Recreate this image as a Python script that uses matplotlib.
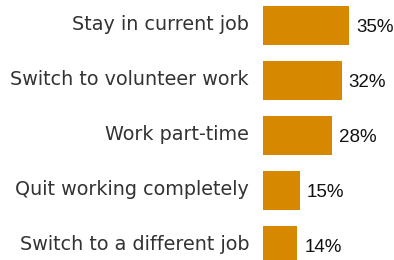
import matplotlib
matplotlib.use('Agg')
import matplotlib.pyplot as plt

# data
categories = ['Stay in current job', 'Switch to volunteer work', 'Work part-time',
              'Quit working completely', 'Switch to a different job']
values = [35, 32, 28, 15, 14]

W, H = 394, 260
fig = plt.figure(figsize=(W / 100, H / 100), dpi=100)
# axes area starts where bars start
ax = fig.add_axes([263 / W, 0, 1 - 263 / W, 1])

pos = list(range(len(categories)))
ax.barh(pos, values, height=0.71, color='#D68800')
ax.set_xlim(0, 131 / 2.46)
ax.set_ylim(4.2636, -0.4636)
ax.axis('off')

for y, v, c in zip(pos, values, categories):
    ax.text(v + 7 / 2.46, y + 0.04, f'{v}%', va='center', ha='left',
            fontsize=13.5, family='Liberation Sans', color='#111111')
    ax.text(-14 / 2.46, y - 0.02, c, va='center', ha='right',
            fontsize=13.8, family='DejaVu Sans', color='#333333')

fig.savefig('out.png', dpi=100)
